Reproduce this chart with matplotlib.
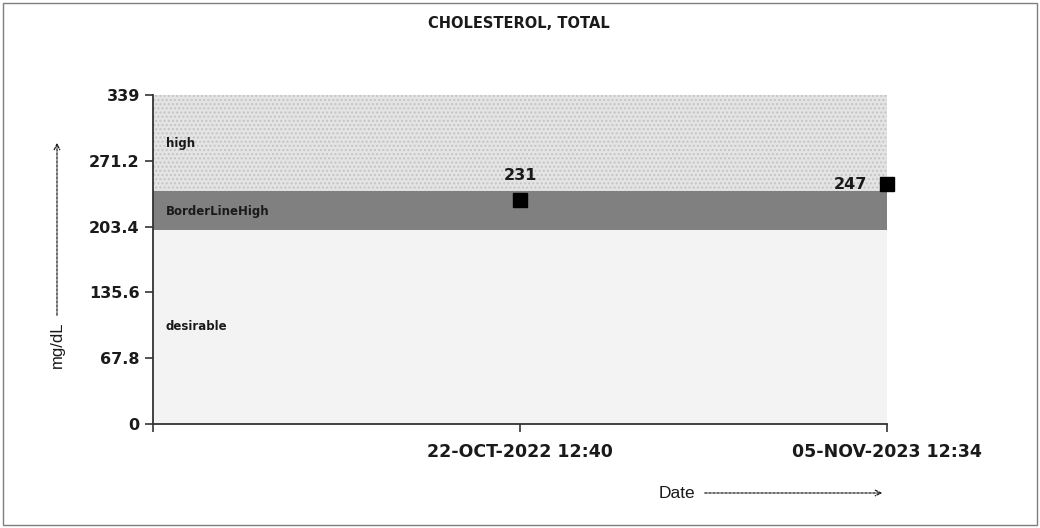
import matplotlib.pyplot as plt
from matplotlib.patches import Rectangle

# data
dates = ["22-OCT-2022 12:40", "05-NOV-2023 12:34"]
values = [231, 247]
band_names = ["desirable", "BorderLineHigh", "high"]
band_edges = [0, 200, 240, 339]
yticks = [0, 67.8, 135.6, 203.4, 271.2, 339]

band_colors = ["#f3f3f3", "#808080", "#e4e4e4"]

fig = plt.figure(figsize=(10.4, 5.28), dpi=100)
ax = fig.add_axes([153 / 1040, 1 - 424 / 528, (887 - 153) / 1040, (424 - 95) / 528])

xpos = list(range(1, len(dates) + 1))
ax.set_xlim(0, len(dates))
ax.set_ylim(band_edges[0], band_edges[-1])

# bands
for i, name in enumerate(band_names):
    lo, hi = band_edges[i], band_edges[i + 1]
    ax.axhspan(lo, hi, color=band_colors[i], lw=0, zorder=0)
    if name == "high":
        ax.axhspan(lo, hi, facecolor="none", edgecolor="#c4c4c4", hatch="....", lw=0, zorder=0.5)
    ypos = {"desirable": 100, "BorderLineHigh": 219, "high": 289}[name]
    ax.text(0.035, ypos, name, fontsize=8.5, fontweight="bold", color="#1a1a1a",
            va="center", ha="left", zorder=2)

# points
ax.plot(xpos, values, linestyle="none", marker="s", markersize=10, color="black",
        zorder=5, clip_on=False)
ax.text(xpos[0], values[0] + 17, str(values[0]), ha="center", va="bottom",
        fontsize=11.5, fontweight="bold", color="#1a1a1a")
ax.text(xpos[1] - 0.055, values[1], str(values[1]), ha="right", va="center",
        fontsize=11.5, fontweight="bold", color="#1a1a1a")

# axes
for s in ["top", "right"]:
    ax.spines[s].set_visible(False)
for s in ["left", "bottom"]:
    ax.spines[s].set_color("#333333")
    ax.spines[s].set_linewidth(1.3)

ax.set_yticks(yticks)
ax.set_yticklabels([f"{t:g}" for t in yticks])
ax.set_xticks([0] + xpos)
ax.set_xticklabels([""] + dates)
ax.tick_params(axis="both", length=6, width=1.2, color="#333333",
               labelsize=11.5, labelcolor="#1a1a1a")
ax.tick_params(axis="x", pad=8, labelsize=12.5)
for lab in ax.get_yticklabels() + ax.get_xticklabels():
    lab.set_fontweight("bold")

fig.text(519 / 1040, 1 - 24 / 528, "CHOLESTEROL, TOTAL", ha="center", va="center",
         fontsize=10.5, fontweight="bold", color="#1a1a1a")

# y label with dashed arrow
fig.text(57 / 1040, 1 - 345 / 528, "mg/dL", rotation=90, ha="center", va="center",
         fontsize=12, color="#1a1a1a", family="Liberation Sans")
ax.annotate("", xy=(57 / 1040, 1 - 140 / 528), xytext=(57 / 1040, 1 - 318 / 528),
            xycoords="figure fraction", textcoords="figure fraction",
            arrowprops=dict(arrowstyle="->", linestyle=(0, (2, 1.2)), color="#1a1a1a", lw=0.9))

# x label with dashed arrow
fig.text(677 / 1040, 1 - 493 / 528, "Date", ha="center", va="center",
         fontsize=12.5, color="#1a1a1a", family="Liberation Sans")
ax.annotate("", xy=(885 / 1040, 1 - 493 / 528), xytext=(702 / 1040, 1 - 493 / 528),
            xycoords="figure fraction", textcoords="figure fraction",
            arrowprops=dict(arrowstyle="->", linestyle=(0, (2, 1.2)), color="#1a1a1a", lw=0.9))

# outer frame
fig.patches.append(Rectangle((3 / 1040, 3 / 528), 1034 / 1040, 522 / 528, transform=fig.transFigure,
                             fill=False, edgecolor="#7f7f7f", lw=1))

fig.savefig("out.png", dpi=100)
